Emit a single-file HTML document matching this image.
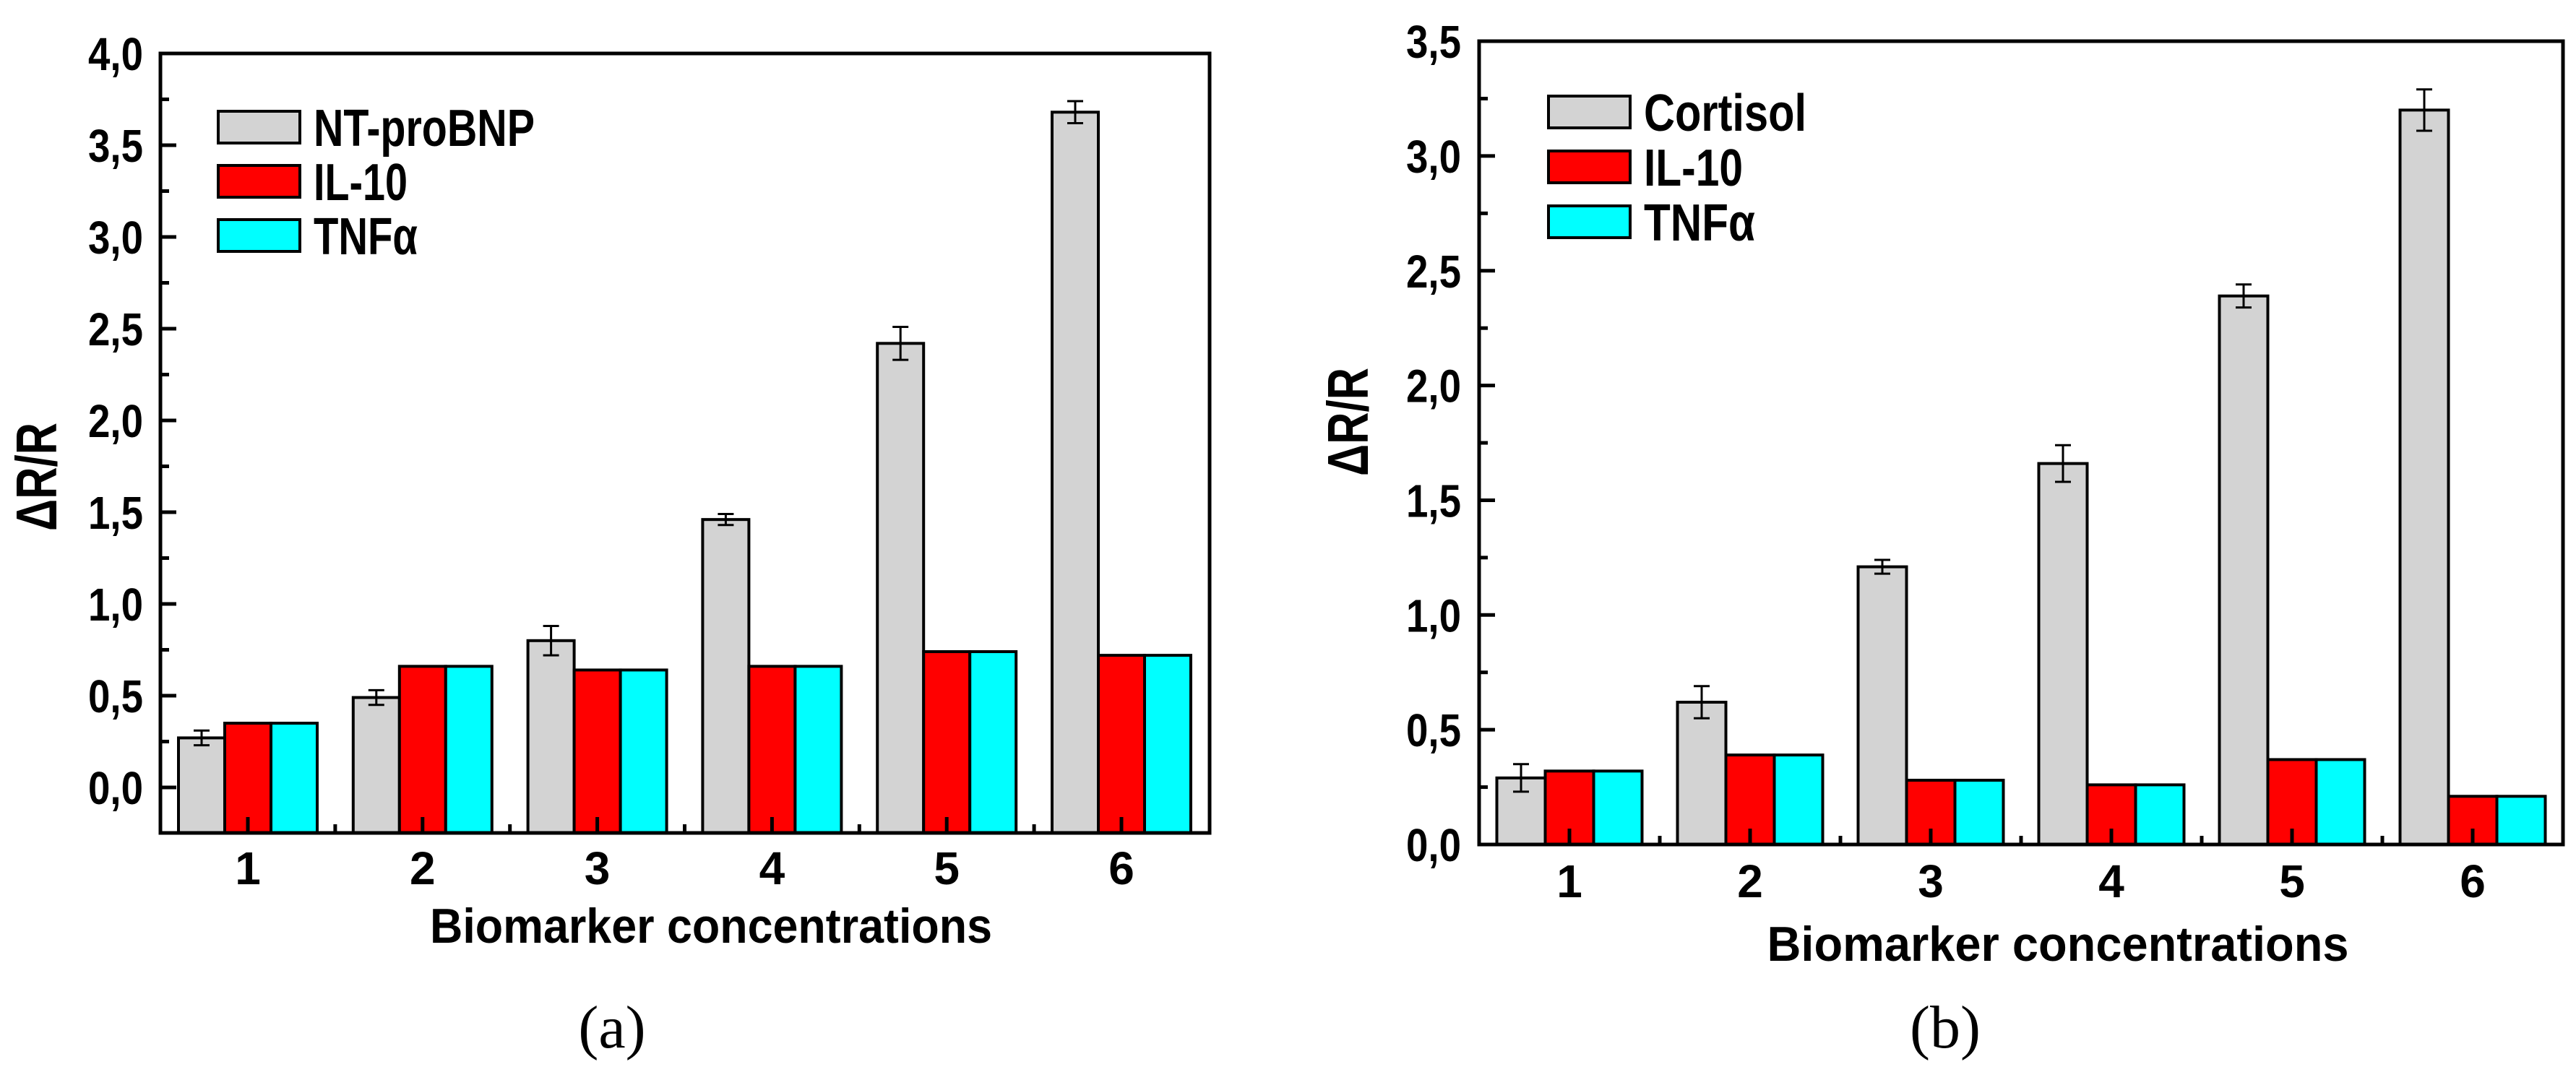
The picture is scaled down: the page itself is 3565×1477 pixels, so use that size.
<!DOCTYPE html>
<html><head><meta charset="utf-8"><style>
html,body{margin:0;padding:0;background:#fff;}
svg{display:block;}
text{font-family:"Liberation Sans",Arial,sans-serif;font-weight:bold;fill:#000;}
</style></head><body>
<svg id="fig" width="3565" height="1477" viewBox="0 0 3565 1477" xmlns="http://www.w3.org/2000/svg"></svg>
<script>
const categories = ["1","2","3","4","5","6"];
const seriesNamesA = ["NT-proBNP","IL-10","TNFα"];
const grayA = [0.27,0.49,0.80,1.46,2.42,3.68];
const grayErrA = [0.04,0.04,0.08,0.03,0.09,0.06];
const redA = [0.35,0.66,0.64,0.66,0.74,0.72];
const cyanA = [0.35,0.66,0.64,0.66,0.74,0.72];
const yTicksA = ["0,0","0,5","1,0","1,5","2,0","2,5","3,0","3,5","4,0"];
const yTickValsA = [0,0.5,1,1.5,2,2.5,3,3.5,4];

const seriesNamesB = ["Cortisol","IL-10","TNFα"];
const grayB = [0.29,0.62,1.21,1.66,2.39,3.20];
const grayErrB = [0.06,0.07,0.03,0.08,0.05,0.09];
const redB = [0.32,0.39,0.28,0.26,0.37,0.21];
const cyanB = [0.32,0.39,0.28,0.26,0.37,0.21];
const yTicksB = ["0,0","0,5","1,0","1,5","2,0","2,5","3,0","3,5"];
const yTickValsB = [0,0.5,1,1.5,2,2.5,3,3.5];

const NS="http://www.w3.org/2000/svg";
const svg=document.getElementById('fig');
function mk(tag,attrs,parent){const e=document.createElementNS(NS,tag);for(const k in attrs)e.setAttribute(k,attrs[k]);(parent||svg).appendChild(e);return e;}

function drawChart(cfg){
  const g=mk('g',{});
  
  
  const L=cfg.left,R=cfg.right,T=cfg.top,B=cfg.bottom;
  const y=v=>cfg.y0-(v)*cfg.unit;
  const x=i=>cfg.x1+i*cfg.step;
  const bw=cfg.bw;
  const cols=['#d3d3d3','#ff0000','#00ffff'];
  const vals=[cfg.gray,cfg.red,cfg.cyan];
  for(let i=0;i<categories.length;i++){
    for(let s=0;s<3;s++){
      const bx=x(i)+(s-1.5)*bw;
      const top=y(vals[s][i]);
      const r=mk('rect',{x:bx,y:top,width:bw,height:B-top,fill:cols[s],stroke:'#000','stroke-width':4},g);
      
      
    }
    const cx=x(i)-bw;
    const v=cfg.gray[i],e=cfg.err[i];
    const eb=mk('path',{d:`M${cx} ${y(v+e)}V${y(v-e)}M${cx-11} ${y(v+e)}H${cx+11}M${cx-11} ${y(v-e)}H${cx+11}`,stroke:'#000','stroke-width':3,fill:'none'},g);
    
    
  }
  const fr=mk('rect',{x:L,y:T,width:R-L,height:B-T,fill:'none',stroke:'#000','stroke-width':5},g);
  
  
  for(let k=0;k<cfg.yVals.length;k++){
    const v=cfg.yVals[k];
    mk('line',{x1:L,x2:L+22,y1:y(v),y2:y(v),stroke:'#000','stroke-width':5},g);
    if(y(v+0.25)>T+3) mk('line',{x1:L,x2:L+12,y1:y(v+0.25),y2:y(v+0.25),stroke:'#000','stroke-width':5},g);
    const t=mk('text',{x:cfg.ylx,y:y(v)+23,'font-size':64,'text-anchor':'end',textLength:76,lengthAdjust:'spacingAndGlyphs'},g);
    t.textContent=cfg.yLabels[k];
    
    
  }
  for(let i=0;i<categories.length;i++){
    mk('line',{x1:x(i),x2:x(i),y1:B,y2:B-22,stroke:'#000','stroke-width':5},g);
    if(i<categories.length-1) mk('line',{x1:x(i)+cfg.step/2,x2:x(i)+cfg.step/2,y1:B,y2:B-12,stroke:'#000','stroke-width':5},g);
    const t=mk('text',{x:x(i),y:cfg.xly,'font-size':64,'text-anchor':'middle'},g);
    t.textContent=categories[i];
    
    
  }
  const xt=mk('text',{x:cfg.xtx,y:cfg.xty,'font-size':68,'text-anchor':'middle',textLength:cfg.xtw,lengthAdjust:'spacingAndGlyphs'},g);
  xt.textContent='Biomarker concentrations';
  
  
  const yt=mk('text',{x:0,y:0,'font-size':80,'text-anchor':'middle',textLength:150,lengthAdjust:'spacingAndGlyphs',transform:`translate(${cfg.ytx},${cfg.yty}) rotate(-90)`},g);
  yt.textContent='ΔR/R';
  
  
  for(let s=0;s<3;s++){
    const cy=cfg.legY+s*cfg.legStep;
    const lb=mk('rect',{x:cfg.legX,y:cy-22,width:113,height:44,fill:cols[s],stroke:'#000','stroke-width':4},g);
    
    
    const lt=mk('text',{x:cfg.legX+132,y:cy+26,'font-size':72,textLength:cfg.legW[s],lengthAdjust:'spacingAndGlyphs'},g);
    lt.textContent=cfg.series[s];
    
    
  }
  const sub=mk('text',{x:cfg.subx,y:1450,'font-size':84,'text-anchor':'middle',style:'font-family:"Liberation Serif",serif;font-weight:normal'},g);
  sub.textContent=cfg.sub;
  
  
}

drawChart({name:'chart-a',left:222,right:1674,top:74,bottom:1153,y0:1090,unit:254,x1:343,step:241.8,bw:64,
  gray:grayA,err:grayErrA,red:redA,cyan:cyanA,series:seriesNamesA,yLabels:yTicksA,yVals:yTickValsA,
  ylx:198,xly:1224,xtx:984,xty:1305,xtw:778,ytx:78,yty:660,legX:302,legY:176,legStep:75,legW:[306,130,144],subx:847,sub:'(a)'});
drawChart({name:'chart-b',left:2047,right:3547,top:57,bottom:1169,y0:1169,unit:317.7,x1:2172,step:250,bw:67,
  gray:grayB,err:grayErrB,red:redB,cyan:cyanB,series:seriesNamesB,yLabels:yTicksB,yVals:yTickValsB,
  ylx:2022,xly:1242,xtx:2848,xty:1330,xtw:805,ytx:1893,yty:584,legX:2143,legY:155,legStep:76,legW:[225,137,154],subx:2692,sub:'(b)'});
</script>
</body></html>
